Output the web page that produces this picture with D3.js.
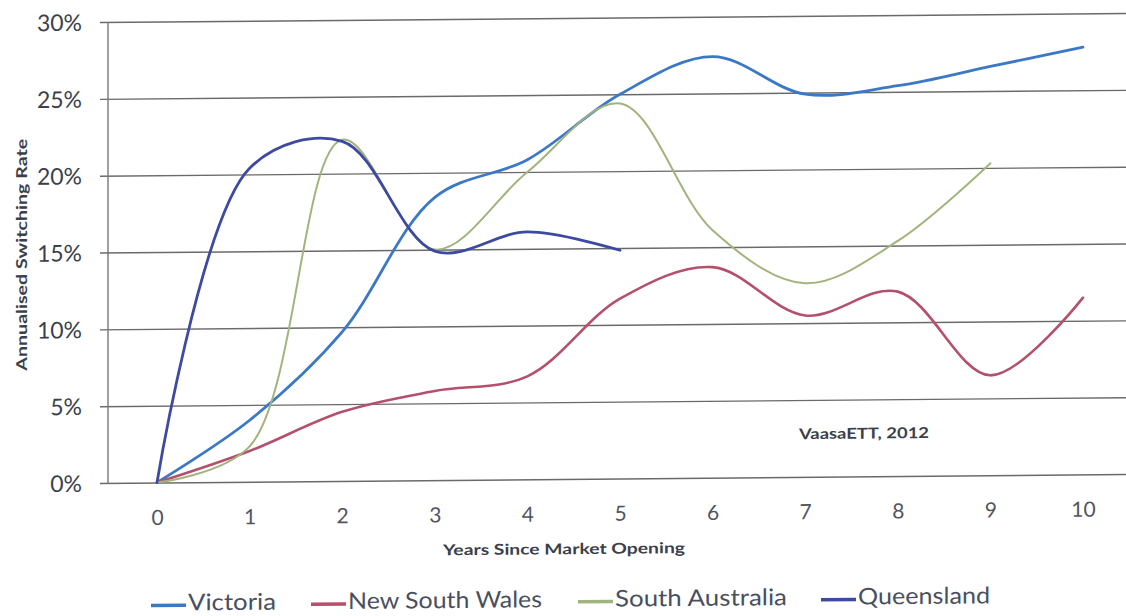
<!DOCTYPE html>
<html><head><meta charset="utf-8">
<script src="https://cdn.jsdelivr.net/npm/d3@7"></script>
<style>
  html,body{margin:0;padding:0;background:#fff;}
  svg{display:block;}
</style>
</head><body>
<svg id="chart" width="1126" height="616"></svg>
<script>
// Annualised switching rate (%) by years since market opening
const years = [0, 1, 2, 3, 4, 5, 6, 7, 8, 9, 10];
const yTickValues = [0, 5, 10, 15, 20, 25, 30];
const victoria       = [0, 4.0, 9.7, 18.4, 20.8, 25.0, 27.4, 24.9, 25.4, 26.6, 27.8];
const newSouthWales  = [0, 2.0, 4.5, 5.8, 6.7, 11.7, 13.7, 10.5, 12.0, 6.5, 11.5];
const southAustralia = [0, 2.3, 22.2, 15.0, 20.0, 24.4, 16.1, 12.6, 15.3, 20.3];
const queensland     = [0, 20.4, 22.1, 14.9, 16.1, 14.85];
const seriesNames  = ["Victoria", "New South Wales", "South Australia", "Queensland"];
const seriesColors = ["#3b78c6", "#b4506c", "#a2b47e", "#3d4a9f"];
const seriesWidths = [2.8, 2.6, 2.0, 2.8];
const seriesData   = [victoria, newSouthWales, southAustralia, queensland];

const svg = d3.select("#chart");
const W = 1126, H = 616;
const axisX = 108;
const skew = -0.506; // degrees
const root = svg.append("g")
  .attr("transform", `translate(0,${axisX * Math.tan(-skew * Math.PI / 180)}) skewY(${skew})`);

const x = d3.scaleLinear().domain([0, 10]).range([157, 1083]);
const y = d3.scaleLinear().domain([0, 30]).range([483, 22]);

const font = "Lato, 'Open Sans', sans-serif";
const textColor = "#3b3f4c";

// horizontal gridlines with the value axis
const yAxis = d3.axisLeft(y).tickValues(yTickValues)
  .tickSize(-(W + 10 - axisX)).tickPadding(26)
  .tickFormat(d => d + "%");
const gy = root.append("g").attr("transform", `translate(${axisX},0)`).call(yAxis);
gy.select(".domain").remove();
gy.selectAll(".tick line").attr("stroke", "#6a6a6a").attr("stroke-width", 1.4)
  .attr("x1", -8);
gy.selectAll(".tick text").attr("font-family", font).attr("font-size", 23)
  .attr("fill", textColor).attr("dy", "0.35em");

// vertical axis line
root.append("line").attr("x1", axisX).attr("x2", axisX)
  .attr("y1", y(30)).attr("y2", y(0))
  .attr("stroke", "#777").attr("stroke-width", 1.4);

// category labels along the bottom
const xAxis = d3.axisBottom(x).tickValues(years).tickSize(0).tickPadding(26)
  .tickFormat(d3.format("d"));
const gx = root.append("g").attr("transform", `translate(0,${y(0)})`).call(xAxis);
gx.select(".domain").remove();
gx.selectAll(".tick text").attr("font-family", font).attr("font-size", 21)
  .attr("fill", "#505560").attr("dy", "0.35em").attr("y", 35);

// smoothed series lines
const line = d3.line()
  .x((d, i) => x(years[i]))
  .y(d => y(d))
  .curve(d3.curveCatmullRom.alpha(0.5));

root.append("g").selectAll("path")
  .data(seriesData)
  .join("path")
  .attr("d", d => line(d))
  .attr("fill", "none")
  .attr("stroke", (d, i) => seriesColors[i])
  .attr("stroke-width", (d, i) => seriesWidths[i])
  .attr("stroke-linecap", "round")
  .attr("stroke-linejoin", "round");

// axis titles
root.append("text")
  .attr("transform", `translate(22,254) rotate(-90)`)
  .attr("text-anchor", "middle").attr("dy", "0.35em")
  .attr("font-family", font).attr("font-weight", "bold").attr("font-size", 15)
  .attr("textLength", 232).attr("lengthAdjust", "spacingAndGlyphs")
  .attr("fill", textColor)
  .text("Annualised Switching Rate");

root.append("text")
  .attr("x", 564).attr("y", 553)
  .attr("text-anchor", "middle").attr("dy", "0.35em")
  .attr("font-family", font).attr("font-weight", "bold").attr("font-size", 15)
  .attr("textLength", 242).attr("lengthAdjust", "spacingAndGlyphs")
  .attr("fill", textColor)
  .text("Years Since Market Opening");

root.append("text")
  .attr("x", 864).attr("y", 440)
  .attr("text-anchor", "middle").attr("dy", "0.35em")
  .attr("font-family", font).attr("font-weight", "bold").attr("font-size", 15)
  .attr("textLength", 130).attr("lengthAdjust", "spacingAndGlyphs")
  .attr("fill", textColor)
  .text("VaasaETT, 2012");

// legend
const legendX = [151, 311, 578, 821];
const legendTextW = [88, 194, 172, 132];
const legend = root.append("g").selectAll("g")
  .data(seriesNames)
  .join("g")
  .attr("transform", (d, i) => `translate(${legendX[i]},603)`);
legend.append("line")
  .attr("x1", 0).attr("x2", 35).attr("y1", 3).attr("y2", 3)
  .attr("stroke", (d, i) => seriesColors[i]).attr("stroke-width", 3.5);
legend.append("text")
  .attr("x", 37).attr("dy", "0.35em")
  .attr("font-family", font).attr("font-size", 23)
  .attr("textLength", (d, i) => legendTextW[i]).attr("lengthAdjust", "spacingAndGlyphs")
  .attr("fill", "#4a4f5e")
  .text(d => d);
</script>
</body></html>
